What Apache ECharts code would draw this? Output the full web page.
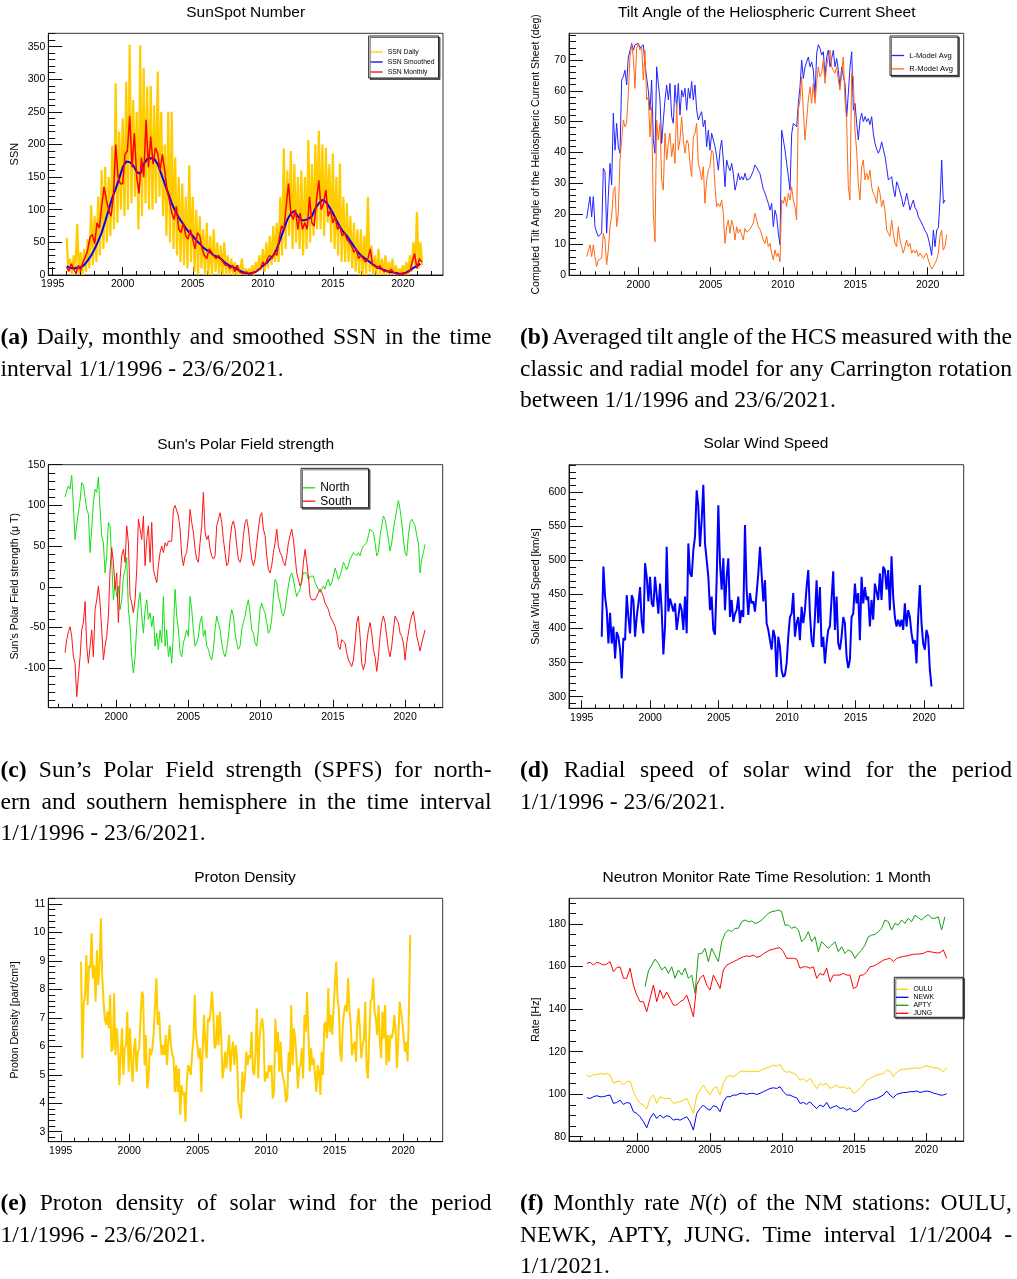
<!DOCTYPE html>
<html>
<head>
<meta charset="utf-8">
<script src="https://cdn.jsdelivr.net/npm/echarts@6/dist/echarts.min.js"></script>
<style>
  body { margin: 0; background: #fff; }
  #chart { position: absolute; left: 0; top: 0; width: 1017px; height: 1279px; }
  .cap { position: absolute; font-family: "Liberation Serif", "Times New Roman", serif; font-size: 23.6px; line-height: 31.7px; color: #000; }
  .cap .line { white-space: nowrap; }
</style>
</head>
<body>
<div id="chart"></div>
<script>
// ---------------- data ----------------
// (a) sunspot number
var ssnDailySpan = [1996.0, 2021.375];
var ssnDaily = [
  57, 5, 25, 0, 30, 8, 78, 2,
  35, 0, 40, 5, 55, 10, 107, 15,
  90, 20, 120, 30, 161, 40, 166, 50,
  150, 60, 198, 70, 294, 80, 220, 100,
  240, 90, 296, 100, 353, 110, 268, 120,
  250, 70, 352, 90, 317, 110, 289, 100,
  290, 100, 260, 110, 312, 120, 250, 90,
  200, 60, 250, 50, 250, 40, 180, 30,
  150, 20, 140, 15, 120, 10, 168, 20,
  120, 5, 100, 0, 90, 10, 70, 0,
  80, 0, 60, 0, 70, 5, 50, 0,
  45, 0, 50, 0, 30, 0, 25, 0,
  20, 0, 15, 0, 25, 0, 10, 0,
  10, 0, 15, 0, 20, 5, 30, 8,
  40, 5, 50, 10, 60, 15, 75, 20,
  80, 20, 120, 30, 194, 40, 160, 60,
  190, 40, 170, 50, 150, 40, 160, 30,
  150, 40, 207, 50, 170, 60, 200, 70,
  221, 70, 200, 60, 195, 80, 170, 50,
  186, 40, 150, 30, 171, 20, 120, 20,
  110, 20, 90, 10, 80, 5, 70, 0,
  70, 0, 60, 0, 120, 5, 45, 0,
  30, 0, 40, 0, 25, 0, 30, 0,
  20, 0, 25, 0, 15, 0, 10, 0,
  15, 0, 20, 0, 30, 5, 50, 10,
  97, 10, 50, 15
];
var ssnMonthlySpan = [1996.0, 2021.333];
var ssnMonthly = [
  12, 6, 17, 10, 2, 15,
  7, 20, 28, 38, 58, 62,
  48, 80, 72, 105, 135, 115,
  100, 90, 120, 200, 150, 140,
  140, 185, 190, 244, 165, 217,
  150, 125, 180, 150, 238, 165,
  212, 170, 195, 186, 160, 185,
  160, 130, 115, 95, 85, 105,
  70, 65, 80, 60, 55, 70,
  55, 40, 65, 60, 40, 30,
  25, 40, 35, 30, 25, 30,
  25, 20, 15, 15, 10, 15,
  5, 15, 5, 3, 2, 5,
  2, 1, 4, 5, 8, 10,
  20, 15, 25, 30, 25, 35,
  30, 55, 75, 70, 105, 140,
  95, 85, 100, 70, 95, 70,
  80, 70, 120, 80, 75, 115,
  145, 100, 110, 130, 90, 100,
  80, 90, 70, 75, 60, 65,
  55, 50, 45, 35, 40, 25,
  30, 25, 20, 25, 40, 15,
  15, 10, 14, 10, 5, 6,
  5, 9, 4, 2, 1, 2,
  3, 2, 4, 6, 20, 33,
  10, 25, 20
];
var ssnSmoothedSpan = [1996.0, 2021.25];
var ssnSmoothed = [
  13, 11, 10, 11,
  12, 15, 22, 30,
  40, 52, 65, 82,
  100, 118, 132, 148,
  165, 174, 173, 168,
  158, 155, 170, 178,
  179, 178, 170, 155,
  140, 125, 110, 98,
  88, 80, 72, 65,
  60, 53, 48, 42,
  38, 35, 30, 28,
  25, 20, 16, 13,
  11, 8, 5, 3,
  2, 3, 5, 9,
  14, 18, 24, 30,
  40, 55, 70, 85,
  94, 98, 90, 84,
  84, 86, 90, 102,
  110, 115, 112, 104,
  95, 84, 74, 66,
  60, 52, 44, 36,
  30, 26, 22, 18,
  14, 11, 9, 7,
  5, 4, 3, 2,
  2, 4, 7, 11,
  14, 17
];

// (b) tilt angle of the HCS (deg)
var tiltLSpan = [1996.43, 2021.20];
var tiltL = [
  18.5, 22, 25.6, 19, 25.6, 15.8, 14, 12.6, 13, 13.7,
  34.8, 33.7, 13.7, 25.6, 36.4, 29.4, 52.7, 40.7, 49.4, 41.8,
  39.7, 63.5, 64.6, 66.7, 61.9, 71, 73, 75.4, 73.2, 75,
  75, 75.4, 74, 74.3, 75, 68.4, 67.8, 60, 53.7, 63.5,
  44, 39.7, 67.8, 62.4, 57, 42.9, 50.5, 57, 61.9, 57,
  62.4, 51.6, 49.4, 61.9, 54.3, 62.4, 52.1, 60.2, 58, 60.8,
  53.7, 60.8, 57.5, 63, 57, 61.9, 53.7, 50.5, 52, 53.2,
  48.3, 50.5, 41.8, 47.2, 40.7, 46.2, 44, 41.8, 38.6, 34.2,
  40.7, 44, 37.5, 28.8, 37.5, 35.3, 34, 36.4, 33, 27.7,
  30, 33.2, 31, 32.1, 31, 33.2, 31, 30.4, 31.5, 32.1,
  34, 35.9, 35, 35.3, 33, 30.4, 28, 26.7, 25, 23.4,
  21.2, 23.4, 15.8, 21.2, 19.1, 13.7, 9.9, 47.2, 44, 40.7,
  36.4, 32.1, 27.7, 46, 49.4, 49.4, 48.3, 55.9, 61.3, 70,
  64, 67.8, 67.3, 71, 67.8, 69.4, 66.7, 58, 72.2, 75,
  73.8, 71.6, 72.7, 64.6, 71, 73.2, 67.8, 70.5, 73.2, 67.8,
  70.5, 66.7, 61.3, 67.8, 64.6, 62.4, 51.6, 59.2, 67.8, 72.7,
  53.7, 55.9, 49.4, 44, 50.5, 52.7, 50, 51.6, 50, 51,
  49, 51.6, 46, 42.9, 41, 39.7, 41, 43.4, 41, 38.6,
  35, 31, 31.5, 32.1, 28, 25.6, 30.4, 29, 28.8, 25,
  22.3, 24, 26.7, 24, 21.2, 23, 24.5, 22, 21.2, 19,
  18, 17, 15.8, 14.5, 13.7, 12, 9.5, 6.5, 14.7, 9.3,
  14.7, 15.5, 24.5, 37.5, 23.4, 24.5
];
var tiltRSpan = [1996.43, 2021.31];
var tiltR = [
  6.1, 8, 9.9, 6.1, 9.9, 6, 2.8, 5, 4.5, 5.5,
  13.7, 11.5, 3.4, 8.2, 15.8, 19.1, 27.2, 28.8, 15.8, 20.2,
  37.5, 44, 50.5, 48.3, 49.4, 59.2, 71, 75, 71, 60.8,
  73.8, 75.4, 73.2, 74.3, 63.5, 73.2, 57, 58, 45, 54.8,
  20.2, 10.9, 50.5, 44, 49.4, 31, 27.7, 46.2, 37.5, 42.9,
  46.2, 38.6, 42.9, 36.4, 55.9, 40.7, 44, 51.6, 44, 39.7,
  44, 42.9, 36.4, 32.1, 45, 46.2, 49.4, 36.4, 34.2, 31,
  35.3, 23.4, 31, 34.2, 35.3, 40.7, 39.7, 28.8, 22.3, 23.4,
  22.3, 24.5, 20.2, 10.4, 15.8, 18, 13.7, 18, 16, 11.5,
  15.8, 13.7, 15, 14.7, 11.5, 15.3, 14, 13.7, 15, 14.7,
  17, 20.2, 18, 15.8, 15, 14.7, 11.5, 10.4, 12.6, 9.3,
  10.4, 7.2, 5, 8.2, 6.1, 7.2, 4.4, 24.5, 23.4, 25.6,
  22.3, 26.7, 24.5, 28.8, 24.5, 22.3, 18, 53.7, 57, 64.6,
  53.7, 44, 50.5, 57, 61.3, 55.9, 62.4, 55.9, 62.4, 67.8,
  64.6, 65.7, 70, 62.4, 67.8, 71, 73.2, 67.8, 66.7, 65.7,
  67.8, 63.5, 60.2, 65.7, 71, 57, 50.5, 28.8, 24.5, 65.7,
  64.6, 47.2, 40.7, 29.9, 24.5, 35.3, 37.5, 31, 33.2, 31,
  34.2, 28.8, 26.7, 25.6, 23.4, 28.8, 26.7, 22.3, 24.5, 21.2,
  14.7, 13.7, 12.6, 18, 13.7, 10.4, 9.3, 15.8, 11.5, 9.3,
  7.2, 6.6, 11.5, 9.3, 10.4, 7.2, 8.2, 7.2, 8.2, 6.1,
  7.2, 6.6, 5.5, 6.1, 7.2, 5, 3.4, 2, 2.8, 3.9,
  5, 7.2, 12.6, 14.7, 8.2, 9.3, 13.1
];

// (c) polar field strength (micro T)
var polarSpan = [1996.47, 2021.38];
var polarNorth = [
  110, 118, 124, 120, 137, 100, 58, 77, 75, 106,
  128, 125, 110, 95, 89, 42, 71, 104, 120, 116,
  135, 95, 63, 54, 17, 38, 79, 75, 30, -16,
  5, -12, 1, -28, -16, 13, 21, 36, -28, -49,
  -86, -106, -86, -49, -20, -7, -36, -57, -28, -16,
  -40, -32, -49, -36, -73, -57, -77, -53, -69, -12,
  -73, -53, -86, -73, -94, -57, -3, -36, -53, -81,
  -86, -69, -61, -53, -61, -12, -28, -53, -73, -69,
  -61, -44, -36, -61, -53, -73, -77, -86, -90, -77,
  -53, -36, -44, -53, -69, -81, -86, -77, -61, -40,
  -28, -36, -57, -69, -77, -73, -53, -44, -36, -24,
  -16, -32, -53, -57, -69, -73, -53, -28, -20, -28,
  -32, -44, -57, -53, -40, -12, 9, 5, -12, -20,
  -32, -36, -28, -12, 1, 13, 17, 9, -3, -12,
  -7, -3, 9, 17, 19, 17, 9, 13, 15, 13,
  5, 1, -3, -7, -3, 1, -3, 5, 9, 1,
  5, 13, 23, 17, 9, 13, 21, 30, 26, 21,
  26, 34, 38, 42, 40, 38, 42, 38, 46, 50,
  48, 54, 63, 71, 73, 67, 54, 38, 42, 63,
  75, 87, 83, 71, 58, 44, 54, 71, 83, 95,
  106, 95, 79, 58, 42, 38, 63, 79, 83, 79,
  75, 63, 54, 17, 34, 42, 52
];
var polarSouth = [
  -81, -65, -55, -49, -61, -86, -94, -135, -110, -86,
  -53, -44, -18, -73, -94, -73, -53, -86, -28, -16,
  1, -20, -53, -90, -73, -61, -36, 21, 48, 30,
  -3, 17, -44, 9, 38, 46, 30, 75, 54, -12,
  -20, -32, -16, 21, 83, 71, 58, 87, 26, 58,
  75, 30, 79, 21, 13, 5, 26, 42, 50, 42,
  54, 50, 56, 54, 56, 95, 100, 100, 87, 71,
  38, 26, 38, 42, 63, 95, 79, 67, 46, 34,
  30, 54, 75, 116, 67, 58, 63, 46, 38, 34,
  38, 75, 83, 91, 79, 58, 42, 26, 30, 58,
  75, 81, 71, 50, 34, 30, 38, 63, 79, 83,
  71, 50, 34, 26, 34, 54, 71, 87, 91, 71,
  63, 38, 21, 17, 26, 42, 54, 71, 50, 42,
  38, 30, 26, 38, 54, 63, 71, 58, 38, 17,
  9, 1, 5, 30, 46, 30, 13, -12, -16, -14,
  -16, -12, -7, -3, -7, -12, -20, -22, -28, -36,
  -40, -44, -49, -57, -73, -77, -65, -67, -69, -81,
  -90, -92, -98, -90, -69, -44, -36, -61, -94, -102,
  -94, -69, -53, -44, -57, -77, -86, -104, -86, -61,
  -44, -36, -44, -61, -77, -86, -73, -53, -36, -36,
  -44, -57, -61, -69, -90, -69, -57, -44, -36, -30,
  -44, -61, -69, -79, -69, -69, -53
];

// (d) solar wind speed (km/s)
var windSpan = [1996.46, 2020.53];
var windSpeed = [
  388, 491, 447, 427, 378, 423, 378, 403, 356, 395,
  388, 369, 327, 386, 383, 449, 417, 393, 449, 442,
  388, 417, 437, 461, 410, 393, 496, 476, 440, 476,
  437, 432, 476, 476, 422, 466, 427, 362, 403, 520,
  425, 444, 435, 425, 437, 398, 417, 437, 427, 398,
  447, 393, 525, 481, 476, 515, 535, 603, 579, 520,
  559, 611, 525, 523, 476, 427, 447, 398, 391, 471,
  581, 496, 457, 503, 427, 476, 503, 417, 442, 410,
  422, 427, 447, 408, 427, 417, 552, 457, 420, 452,
  437, 440, 425, 452, 481, 520, 520, 440, 471, 408,
  398, 383, 369, 398, 388, 329, 388, 373, 339, 329,
  332, 349, 388, 417, 422, 452, 388, 408, 417, 383,
  432, 408, 427, 461, 486, 422, 383, 373, 417, 471,
  408, 461, 373, 388, 349, 378, 398, 403, 403, 484,
  398, 447, 378, 369, 388, 417, 408, 359, 342, 354,
  417, 422, 466, 437, 452, 383, 476, 437, 461, 442,
  447, 403, 442, 413, 466, 466, 442, 481, 442, 491,
  486, 457, 486, 427, 506, 447, 417, 403, 413, 403,
  413, 398, 437, 403, 427, 417, 393, 378, 383, 349,
  417, 464, 408, 378, 369, 398, 388, 340, 315
];

// (e) proton density (part/cm3)
var densitySpan = [1996.48, 2020.51];
var protonDensity = [
  8.97, 5.58, 7.45, 7.8, 9.2, 7.45, 8.85, 8.74, 9.97, 8.39,
  8.85, 7.57, 9.38, 8.15, 8.85, 10.5, 8.5, 7.57, 6.98, 6.75,
  7.22, 6.63, 7.8, 5.81, 5.93, 7.86, 5.69, 6.63, 6.04, 4.64,
  5.69, 6.63, 4.99, 5.93, 6.04, 7.22, 5.11, 6.63, 5.46, 4.76,
  5.93, 6.28, 5.11, 5.81, 5.93, 5.93, 7.92, 7.8, 5.34, 6.4,
  4.52, 4.87, 5.93, 5.69, 5.93, 6.51, 7.45, 8.39, 6.75, 7.22,
  6.28, 5.69, 6.04, 5.69, 6.4, 5.34, 6.16, 6.75, 6.04, 5.69,
  5.58, 4.4, 5.34, 4.4, 5.22, 3.59, 4.64, 4.29, 4.4, 3.35,
  4.76, 5.34, 5.22, 4.99, 5.69, 6.28, 7.8, 6.4, 6.04, 5.58,
  5.93, 4.4, 5.93, 7.1, 6.04, 5.58, 6.98, 6.86, 7.22, 7.92,
  7.22, 5.93, 6.04, 7.1, 6.04, 7.22, 6.4, 4.87, 5.22, 5.81,
  5.22, 5.81, 6.4, 5.11, 5.81, 6.16, 5.34, 6.04, 5.58, 4.05,
  3.82, 3.47, 5.11, 4.4, 4.87, 5.81, 5.34, 5.69, 5.58, 6.51,
  5.11, 4.99, 5.81, 7.33, 4.87, 6.28, 6.75, 6.98, 6.51, 4.76,
  5.11, 4.87, 5.34, 5.11, 5.34, 4.17, 4.4, 6.98, 5.81, 6.51,
  5.11, 6.16, 5.11, 4.87, 4.64, 4.05, 4.17, 5.81, 5.11, 7.45,
  5.34, 6.63, 6.28, 5.58, 4.52, 5.22, 5.34, 5.93, 4.87, 7.1,
  6.51, 7.92, 6.4, 5.11, 5.93, 5.34, 5.58, 4.99, 4.4, 5.34,
  5.11, 4.29, 5.81, 4.99, 6.75, 6.86, 6.28, 8.04, 6.51, 7.1,
  6.4, 7.33, 7.33, 8.97, 7.68, 7.33, 5.81, 5.46, 6.75, 7.22,
  7.45, 7.22, 8.39, 7.33, 6.75, 5.69, 6.04, 6.16, 5.46, 6.86,
  7.33, 6.51, 5.58, 6.04, 6.28, 7.57, 5.22, 4.87, 6.28, 7.57,
  7.68, 8.39, 7.22, 6.98, 6.4, 7.45, 6.16, 5.58, 7.22, 6.28,
  7.45, 5.34, 6.4, 5.46, 6.4, 6.28, 6.51, 7.1, 6.51, 5.22,
  6.28, 7.57, 7.22, 6.86, 6.86, 5.81, 6.16, 5.46, 7.22, 9.91
];

// (f) neutron monitor rates (Hz)
var nmSpan = [1996.47, 2021.41];
var nmOulu = [
  109, 108.2, 109.3, 109, 109.8, 109.3, 109.8, 109, 105.1, 105.9,
  106.2, 104.3, 105.9, 106.2, 101.2, 98, 95.7, 94.9, 93, 98,
  99.6, 95.7, 98.8, 98, 98, 98, 95.7, 96.1, 96.5, 97.2,
  98, 94.9, 91, 99.6, 101.9, 104.3, 101.9, 99.6, 102.7, 103.5,
  99.6, 105.1, 108.2, 108.7, 108.2, 109.3, 110.6, 110.9, 110.6, 110.6,
  110.9, 110.6, 110.9, 111.8, 112.4, 112.9, 113.7, 113.2, 114, 111.3,
  110.3, 110.6, 109.8, 109, 106.6, 107.4, 105.9, 107.4, 105.1, 102.7,
  105.1, 104.3, 105.1, 102.7, 103.5, 104.3, 103, 103.5, 102.7, 103,
  100.4, 101.2, 102.7, 104.3, 106.6, 107.4, 108.2, 109, 109.3, 109.8,
  111.3, 110.9, 108.2, 110.3, 111.3, 111.8, 111.8, 112.1, 112.1, 112.4,
  112.1, 112.9, 113.4, 112.9, 112.4, 112.4, 111.8, 110.6, 112.4
];
var nmNewk = [
  98.3, 98, 98.8, 99.3, 98.8, 98.8, 99.3, 99.6, 95.7, 96.1,
  97.2, 95.2, 96.1, 95.7, 91.8, 91, 89.4, 87.1, 84.2, 88.6,
  91, 88.6, 90.2, 88.9, 89.9, 89.4, 87.8, 88.3, 87.8, 88.6,
  89.4, 87.1, 83.1, 91, 93.3, 94.9, 93.3, 92.5, 94.6, 94.1,
  91.8, 96.5, 98.8, 98.8, 99.6, 99.6, 100.4, 100.4, 99.9, 100.4,
  100.4, 99.9, 100.4, 101.2, 101.9, 102.7, 103, 102.7, 103.5, 101.2,
  99.6, 99.6, 98.8, 98.3, 95.7, 96.1, 95.2, 96.5, 94.6, 93.3,
  94.9, 94.1, 96.1, 93.3, 94.1, 94.6, 93.3, 93.6, 92.5, 93.3,
  91.8, 92.1, 93.3, 94.9, 96.5, 97.2, 97.6, 98, 98.8, 99.6,
  101.5, 99.6, 98.3, 99.9, 100.4, 100.8, 100.8, 101.2, 101.2, 101.5,
  100.8, 101.2, 101.5, 101.2, 100.5, 100.2, 99.6, 99.6, 100.2
];
var nmJung = [
  161.5, 162, 160.7, 162, 161.5, 160.7, 161.2, 162.3, 157.6, 159.5,
  159.9, 154.5, 154.5, 159.2, 151.3, 146.6, 143.5, 143.5, 138.8, 145,
  151.3, 143.5, 149, 145, 148, 145, 141.9, 141.9, 143.5, 144.3,
  146.6, 141.9, 136.4, 151.3, 154.5, 156, 151.3, 149, 156, 152.9,
  149.7, 158.4, 160.7, 161.5, 162.3, 163, 163.9, 164.6, 165, 164.8,
  165.4, 164.4, 164.8, 166, 167, 167.8, 168.2, 168.6, 168.9, 167,
  163.9, 163.9, 163.9, 163.5, 159.2, 159.9, 159.9, 159.2, 159.9, 154.5,
  156.8, 156, 159.2, 152.9, 156, 156, 156, 156.8, 156, 156,
  149.7, 150.5, 156, 156, 157.6, 159.9, 160.2, 161, 162, 163,
  163.5, 163.9, 162.3, 163.8, 164.4, 164.8, 165, 165.4, 165.8, 165.8,
  166, 166.2, 167, 167, 166.7, 166.4, 166.5, 167.8, 163.9
];
var aptySpan = [2000.51, 2021.29];
var nmApty = [
  150.5, 157.9, 160.7, 163.5, 161.5, 158.4, 159.9, 156.8, 159.9, 154.5,
  158.4, 156, 159.2, 154.5, 156, 147.4, 166, 166.2, 168.6, 162.3,
  168.6, 165.4, 162.3, 171.7, 175.6, 177.2, 176.4, 178, 178, 181.1,
  181.9, 181.1, 181.4, 180.3, 180.8, 181.9, 183.4, 185, 185.8, 186.1,
  186.6, 185.8, 179.5, 179.5, 178, 178.7, 177.2, 171.7, 173.3, 176.4,
  171.7, 174, 167, 171.7, 170.1, 168.6, 170.1, 171.7, 167, 169.3,
  166.2, 167.8, 167, 163.9, 166.2, 167.8, 170.1, 174, 174.8, 175.1,
  176.4, 178, 181.9, 181.1, 177.2, 180.3, 179.5, 181.9, 180.3, 182.7,
  181.1, 184.2, 183, 181.9, 183.4, 184.5, 182.7, 182.7, 183.4, 177.2,
  183.4
];

// tick labels
var yearLabels = [1995, 2000, 2005, 2010, 2015, 2020];
var yearLabelsFrom2000 = [2000, 2005, 2010, 2015, 2020];
var ssnTicks = [0, 50, 100, 150, 200, 250, 300, 350];
var tiltTicks = [0, 10, 20, 30, 40, 50, 60, 70];
var polarTicks = [-100, -50, 0, 50, 100, 150];
var windTicks = [300, 350, 400, 450, 500, 550, 600];
var densityTicks = [3, 4, 5, 6, 7, 8, 9, 10, 11];
var rateTicks = [80, 100, 120, 140, 160, 180];

// ---------------- helpers ----------------
function steps(a, b, s) {
  var out = [];
  for (var v = a; v <= b + 1e-9; v += s) out.push(Math.round(v * 1000) / 1000);
  return out;
}
function toPairs(span, vals) {
  var n = vals.length;
  return vals.map(function (v, i) {
    return [span[0] + (span[1] - span[0]) * i / (n - 1), v];
  });
}

var FONT = '"Liberation Sans", Arial, Helvetica, sans-serif';

// frame boxes [left, top, right, bottom] and axis ranges
var panels = [
  { box: [48.3, 33.3, 443, 275], x: [1994.69, 2022.86], y: [0, 370.4],
    xMajor: yearLabels, xMinor: steps(1995, 2022, 1), yMajor: ssnTicks, yMinor: steps(0, 370, 10),
    yName: 'SSN', nameSize: 11, title: 'SunSpot Number', tx: 245.7, ty: 5 },
  { box: [569, 33.3, 963.7, 275.3], x: [1995.21, 2022.49], y: [0, 78.7],
    xMajor: yearLabelsFrom2000, xMinor: steps(1996, 2022, 1), yMajor: tiltTicks, yMinor: steps(0, 78, 2),
    yName: 'Computed Tilt Angle of the Heliospheric Current Sheet (deg)', nameSize: 10.5,
    title: 'Tilt Angle of the Heliospheric Current Sheet', tx: 766.7, ty: 5 },
  { box: [48.3, 464.7, 442.7, 707.7], x: [1995.31, 2022.6], y: [-148.6, 150],
    xMajor: yearLabelsFrom2000, xMinor: steps(1996, 2022, 1), yMajor: polarTicks, yMinor: steps(-140, 150, 10),
    yName: "Sun's Polar Field strength (\u03bc T)", nameSize: 10.6,
    title: "Sun's Polar Field strength", tx: 245.7, ty: 437 },
  { box: [569, 464.7, 963.7, 708.3], x: [1994.07, 2022.88], y: [283, 640.5],
    xMajor: yearLabels, xMinor: steps(1995, 2022, 1), yMajor: windTicks, yMinor: steps(290, 640, 10),
    yName: 'Solar Wind Speed [km/s]', nameSize: 10.6, title: 'Solar Wind Speed', tx: 766, ty: 436 },
  { box: [48.3, 898.3, 442.7, 1141.7], x: [1994.09, 2022.88], y: [2.65, 11.2],
    xMajor: yearLabels, xMinor: steps(1995, 2022, 1), yMajor: densityTicks, yMinor: steps(2.8, 11.2, 0.2),
    yName: 'Proton Density [part/cm\u00b3]', nameSize: 10.6, title: 'Proton Density', tx: 245, ty: 869.5 },
  { box: [569, 898.3, 963.7, 1141], x: [1995.24, 2022.59], y: [78, 192.1],
    xMajor: yearLabelsFrom2000, xMinor: steps(1996, 2022, 1), yMajor: rateTicks, yMinor: steps(80, 190, 5),
    yName: 'Rate [Hz]', nameSize: 10.6, title: 'Neutron Monitor Rate Time Resolution: 1 Month', tx: 766.7, ty: 869.5 }
];

var grids = [], xAxes = [], yAxes = [], titles = [];
panels.forEach(function (p, i) {
  grids.push({
    left: p.box[0], top: p.box[1], width: p.box[2] - p.box[0], height: p.box[3] - p.box[1],
    containLabel: false, outerBoundsMode: 'none',
    show: true, borderColor: '#333', borderWidth: 1, backgroundColor: 'transparent'
  });
  xAxes.push({
    gridIndex: i, type: 'value', position: 'bottom', min: p.x[0], max: p.x[1],
    axisLine: { show: true, onZero: false, lineStyle: { color: '#111', width: 1 } },
    axisTick: { show: true, inside: true, length: 8, customValues: p.xMajor, lineStyle: { color: '#111' } },
    axisLabel: { show: true, customValues: p.xMajor, margin: 4, fontSize: 10.5, color: '#000', fontFamily: FONT,
      formatter: function (v) { return String(v); } },
    splitLine: { show: false }
  });
  xAxes.push({
    gridIndex: i, type: 'value', position: 'bottom', min: p.x[0], max: p.x[1],
    axisLine: { show: false, onZero: false },
    axisTick: { show: true, inside: true, length: 4, customValues: p.xMinor, lineStyle: { color: '#111' } },
    axisLabel: { show: false }, splitLine: { show: false }
  });
  yAxes.push({
    gridIndex: i, type: 'value', position: 'left', min: p.y[0], max: p.y[1],
    name: p.yName, nameLocation: 'middle', nameRotate: 90, nameGap: 27.5, nameMoveOverlap: false,
    nameTextStyle: { fontSize: p.nameSize, color: '#000', fontFamily: FONT },
    axisLine: { show: true, onZero: false, lineStyle: { color: '#111', width: 1 } },
    axisTick: { show: true, inside: true, length: 14, customValues: p.yMajor, lineStyle: { color: '#111' } },
    axisLabel: { show: true, customValues: p.yMajor, margin: 3, fontSize: 10.5, color: '#000', fontFamily: FONT,
      formatter: function (v) { return String(v); } },
    splitLine: { show: false }
  });
  yAxes.push({
    gridIndex: i, type: 'value', position: 'left', min: p.y[0], max: p.y[1],
    axisLine: { show: false, onZero: false },
    axisTick: { show: true, inside: true, length: 7, customValues: p.yMinor, lineStyle: { color: '#111' } },
    axisLabel: { show: false }, splitLine: { show: false }
  });
  titles.push({
    text: p.title, left: p.tx, top: p.ty, textAlign: 'center', padding: 0,
    textStyle: { fontSize: 15.5, fontWeight: 'normal', color: '#000', fontFamily: FONT }
  });
});

function line(name, panel, span, vals, color, width) {
  return {
    name: name, type: 'line', xAxisIndex: panel * 2, yAxisIndex: panel * 2,
    data: toPairs(span, vals), showSymbol: false, symbol: 'none', color: color,
    lineStyle: { color: color, width: width }, silent: true
  };
}

var series = [
  line('SSN Daily', 0, ssnDailySpan, ssnDaily, '#FFCC00', 2.2),
  line('SSN Smoothed', 0, ssnSmoothedSpan, ssnSmoothed, '#0000FF', 2),
  line('SSN Monthly', 0, ssnMonthlySpan, ssnMonthly, '#FF0000', 1.5),
  line('L-Model Avg', 1, tiltLSpan, tiltL, '#2424FF', 1),
  line('R-Model Avg', 1, tiltRSpan, tiltR, '#FF6A14', 1),
  line('North', 2, polarSpan, polarNorth, '#14E014', 1),
  line('South', 2, polarSpan, polarSouth, '#FF1414', 1),
  line('Solar Wind Speed', 3, windSpan, windSpeed, '#0000FF', 2),
  line('Proton Density', 4, densitySpan, protonDensity, '#FFCC00', 2),
  line('OULU', 5, nmSpan, nmOulu, '#FFCC00', 1),
  line('NEWK', 5, nmSpan, nmNewk, '#0000FF', 1),
  line('APTY', 5, aptySpan, nmApty, '#14A014', 1),
  line('JUNG', 5, nmSpan, nmJung, '#FF0000', 1)
];

function legendBox(names, left, top, padding, gap, size, lh, w) {
  return {
    data: names, left: left, top: top, orient: 'vertical', padding: padding, itemGap: gap,
    itemWidth: w, itemHeight: 1.3, icon: 'rect', selectedMode: false,
    borderColor: '#222', borderWidth: 1, backgroundColor: '#fff',
    shadowColor: 'rgba(0,0,0,0.55)', shadowOffsetX: 1.5, shadowOffsetY: 1.5, shadowBlur: 0,
    textStyle: { fontSize: size, lineHeight: lh, color: '#000', fontFamily: FONT }
  };
}

var option = {
  animation: false,
  backgroundColor: '#fff',
  title: titles,
  grid: grids,
  xAxis: xAxes,
  yAxis: yAxes,
  legend: [
    legendBox(['SSN Daily', 'SSN Smoothed', 'SSN Monthly'], 368.7, 36, [12, 4, 2, 2], 2, 6.8, 8, 12),
    legendBox(['L-Model Avg', 'R-Model Avg'], 890, 36, [15, 5, 2, 1.5], 4.4, 7.6, 9, 12.7),
    legendBox(['North', 'South'], 301, 468.3, [13, 17, 0, 1.5], 0.4, 12, 13, 12.7),
    legendBox(['OULU', 'NEWK', 'APTY', 'JUNG'], 894.3, 977.3, [8, 29, 0, 1.5], 0, 6.9, 8, 12.6)
  ],
  series: series
};

var chart = echarts.init(document.getElementById('chart'), null, { renderer: 'canvas' });
chart.setOption(option);

// ---------------- captions ----------------
var captions = [
  { left: 0.5, top: 321, width: 491, lines: [
    '<b>(a)</b> Daily, monthly and smoothed SSN in the time',
    'interval 1/1/1996 - 23/6/2021.'] },
  { left: 520, top: 321, width: 492, lines: [
    '<b>(b)</b> Averaged tilt angle of the HCS measured with the',
    'classic and radial model for any Carrington rotation',
    'between 1/1/1996 and 23/6/2021.'] },
  { left: 0.5, top: 754, width: 491, lines: [
    '<b>(c)</b> Sun\u2019s Polar Field strength (SPFS) for north-',
    'ern and southern hemisphere in the time interval',
    '1/1/1996 - 23/6/2021.'] },
  { left: 520, top: 754, width: 492, lines: [
    '<b>(d)</b> Radial speed of solar wind for the period',
    '1/1/1996 - 23/6/2021.'] },
  { left: 0.5, top: 1187, width: 491, lines: [
    '<b>(e)</b> Proton density of solar wind for the period',
    '1/1/1996 - 23/6/2021.'] },
  { left: 520, top: 1187, width: 492, lines: [
    '<b>(f)</b> Monthly rate <i>N</i>(<i>t</i>) of the NM stations: OULU,',
    'NEWK, APTY, JUNG. Time interval 1/1/2004 -',
    '1/1/2021.'] }
];
captions.forEach(function (c) {
  var box = document.createElement('div');
  box.className = 'cap';
  box.style.left = c.left + 'px';
  box.style.top = c.top + 'px';
  box.style.width = c.width + 'px';
  document.body.appendChild(box);
  c.lines.forEach(function (html, k) {
    var row = document.createElement('div');
    row.className = 'line';
    var span = document.createElement('span');
    span.innerHTML = html;
    row.appendChild(span);
    box.appendChild(row);
    if (k < c.lines.length - 1) {
      var w = span.getBoundingClientRect().width;
      var n = (span.textContent.match(/ /g) || []).length;
      if (n > 0) span.style.wordSpacing = ((c.width - w) / n) + 'px';
    }
  });
});
</script>
</body>
</html>
